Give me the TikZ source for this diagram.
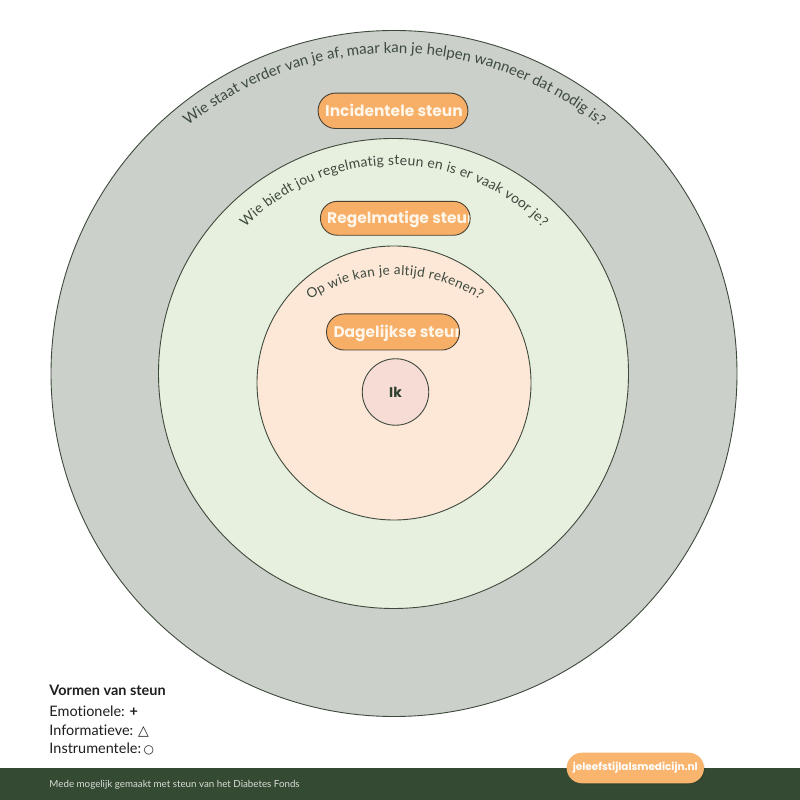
\documentclass[tikz,border=0pt]{standalone}
\usepackage{fontspec}
\setmainfont{Lato}[Ligatures=NoCommon]
\newfontfamily\pillfont{Poppins}
\newfontfamily\symfont{DejaVu Sans}
\usetikzlibrary{decorations.text}
\definecolor{ringline}{HTML}{3E4A3C}
\definecolor{outerfill}{HTML}{CBD0CA}
\definecolor{midfill}{HTML}{E7EFDF}
\definecolor{innerfill}{HTML}{FDE8D8}
\definecolor{ikfill}{HTML}{F7DCD6}
\definecolor{pillfill}{HTML}{F7AE67}
\definecolor{webfill}{HTML}{F9B46E}
\definecolor{pillline}{HTML}{4A4030}
\definecolor{pilltext}{HTML}{FFF5E8}
\definecolor{arctext}{HTML}{3C4A3E}
\definecolor{bandgreen}{HTML}{344A33}
\definecolor{bandtext}{HTML}{D9DDD5}
\definecolor{legendtext}{HTML}{1E1E1E}
\definecolor{ikgreen}{HTML}{2F3F2E}
\tikzset{
  ring/.style={circle, draw=ringline, line width=0.9bp, inner sep=0pt},
  pillbox/.style={rectangle, fill=pillfill, rounded corners=#1, inner sep=0pt},
  pillborder/.style={draw=pillline, line width=0.9bp, rounded corners=#1},
  pilllabel/.style={anchor=base west, inner sep=0pt, text=pilltext, font=\pillfont\bfseries\fontsize{15.5}{16}\selectfont},
  arclabel/.style={decorate, decoration={text along path, text align=fit to path, text color=arctext, text={#1}}},
  legend/.style={anchor=base west, inner sep=0pt, text=legendtext, font=\fontsize{14.5}{16}\selectfont},
}
\begin{document}
\begin{tikzpicture}[x=1bp,y=1bp]
\useasboundingbox (0,0) rectangle (800,800);
\fill[white] (0,0) rectangle (800,800);

% rings
\node[ring, fill=outerfill, minimum size=686bp] (outer) at (394,426.5) {};
\node[ring, fill=midfill, minimum size=470bp] (mid) at (393.5,426.5) {};
\node[ring, fill=innerfill, minimum size=274bp] (inner) at (394,417) {};
\node[ring, fill=ikfill, minimum size=66.5bp, font=\pillfont\bfseries\fontsize{14}{15}\selectfont, text=ikgreen] (ik) at (395.5,408) {Ik};

% arc texts
\coordinate (c1) at (394,420);
\coordinate (c2) at (394,427);
\coordinate (c3) at (395,368);
\path[arclabel={|\fontsize{15}{16}\selectfont|Wie staat verder van je af, maar kan je helpen wanneer dat nodig is?}]
  (c1) ++(129:327) arc[start angle=129, end angle=51, radius=327];
\path[arclabel={|\fontsize{14}{16}\selectfont|Wie biedt jou regelmatig steun en is er vaak voor je?}]
  (c2) ++(135.6:208) arc[start angle=135.6, end angle=44.4, radius=208];
\path[arclabel={|\fontsize{13.6}{16}\selectfont|Op wie kan je altijd rekenen?}]
  (c3) ++(122.8:157) arc[start angle=122.8, end angle=57.3, radius=157];

% pill 1
\node[pillbox=17.5bp, minimum width=149.4bp, minimum height=35bp] (pillA) at (393,689.2) {};
\node[pilllabel] (textA) at (325,683.5) {Incidentele steun};
\draw[pillborder=17.5bp] (pillA.south west) rectangle (pillA.north east);

% pill 2
\node[pillbox=16.75bp, minimum width=149.3bp, minimum height=33.5bp] (pillB) at (395.3,581.7) {};
\begin{scope}
\clip[rounded corners=16.75bp] (pillB.south west) rectangle (pillB.north east);
\node[pilllabel] (textB) at (327,576) {Regelmatige steun};
\end{scope}
\draw[pillborder=16.75bp] (pillB.south west) rectangle (pillB.north east);

% pill 3
\node[pillbox=17.8bp, minimum width=132.6bp, minimum height=35.7bp] (pillC) at (393,468) {};
\begin{scope}
\clip[rounded corners=17.8bp] (pillC.south west) rectangle (pillC.north east);
\node[pilllabel] (textC) at (333.3,462.3) {Dagelijkse steun};
\end{scope}
\draw[pillborder=17.8bp] (pillC.south west) rectangle (pillC.north east);

% legend
\node[legend, font=\bfseries\fontsize{14.5}{16}\selectfont] (lgTitle) at (49.3,104.3) {Vormen van steun};
\node[legend] (lgEmo) at (49.3,83.3) {Emotionele: \textbf{+}};
\node[legend] (lgInf) at (49.3,64.7) {Informatieve: {\symfont\fontsize{14}{14}\selectfont △}};
\node[legend] (lgIns) at (49.3,46) {Instrumentele:\,{\symfont\fontsize{12}{14}\selectfont ○}};

% footer band
\fill[bandgreen] (0,0) rectangle (800,31.7);
\node[anchor=base west, inner sep=0pt, text=bandtext, font=\fontsize{9.8}{11}\selectfont] (footer) at (49.3,12.7) {Mede mogelijk gemaakt met steun van het Diabetes Fonds};

% website pill
\fill[black, opacity=0.08, rounded corners=15.3bp] (567.5,15.7) rectangle (705,46.3);
\node[pillbox=15.3bp, fill=webfill, minimum width=137.3bp, minimum height=30.6bp, text=white, font=\pillfont\bfseries\fontsize{10.5}{12}\selectfont] (web) at (635.3,32) {jeleefstijlalsmedicijn.nl};
\end{tikzpicture}
\end{document}
